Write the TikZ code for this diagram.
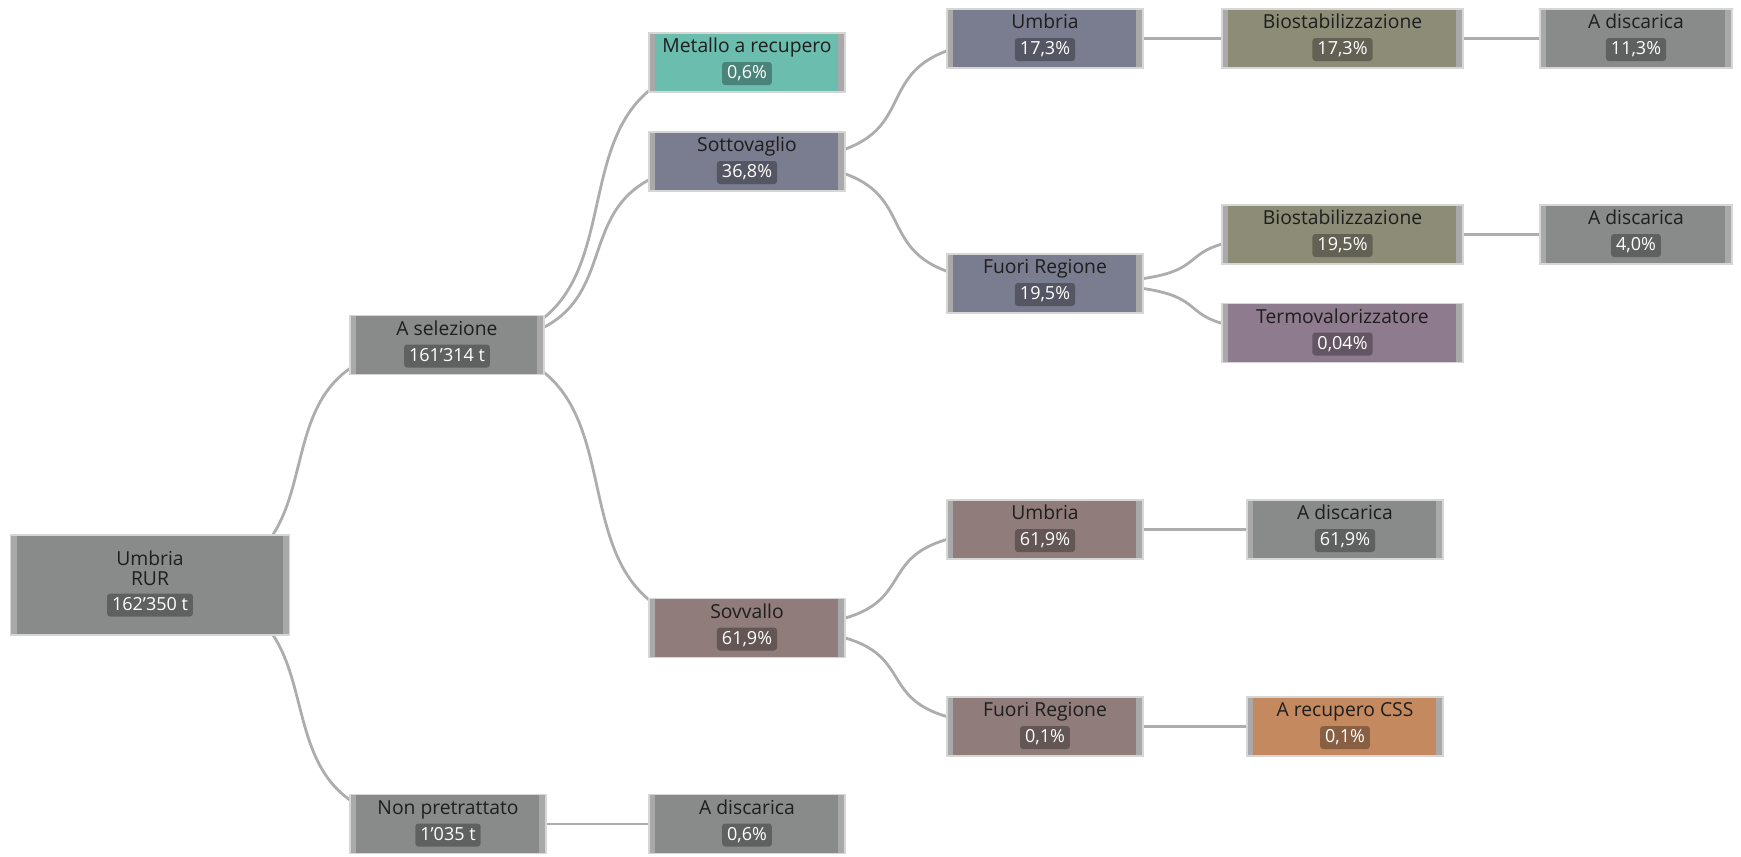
\documentclass[tikz,border=0pt]{standalone}
\usepackage{fontspec}
\setmainfont{Open Sans}
\usetikzlibrary{calc}
\definecolor{cgray}{HTML}{898B8B}
\definecolor{cteal}{HTML}{6BBDAE}
\definecolor{cslate}{HTML}{7A7C8F}
\definecolor{colive}{HTML}{8D8C77}
\definecolor{cmauve}{HTML}{8F7B8E}
\definecolor{crosy}{HTML}{8F7C7B}
\definecolor{corange}{HTML}{C4895F}
\definecolor{barc}{HTML}{A9A9A9}
\definecolor{edgec}{HTML}{D6D6D6}
\definecolor{linkc}{HTML}{ADADAD}
\definecolor{namec}{HTML}{1E1E1E}
\pgfdeclarelayer{back}
\pgfsetlayers{back,main}
\tikzset{
  dbox/.style={rectangle, draw=edgec, line width=1.2pt, inner sep=0pt,
    path picture={
      \fill[barc] (path picture bounding box.south west) rectangle ([xshift=6pt]path picture bounding box.north west);
      \fill[barc] (path picture bounding box.south east) rectangle ([xshift=-7pt]path picture bounding box.north east);}},
  link/.style={draw=linkc, line width=2.8pt},
  nm/.style={anchor=base, text=namec, inner sep=0pt, font=\fontsize{19.3}{20}\selectfont},
  pill/.style={fill=black, fill opacity=0.3, text opacity=1, text=white, rounded corners=3pt,
    inner xsep=5pt, inner ysep=0pt, minimum height=23pt, text height=13pt, text depth=3pt,
    font=\fontsize{18}{20}\selectfont}
}
\newcommand{\dnode}[8]{%
  \node[dbox, fill=#6, minimum width=#4pt, minimum height=#5pt] (#1) at (#2,#3) {};
  \node[nm] (#1-n) at ($(#1.center)+(0,-10)$) {#7};
  \node[pill] (#1-v) at ($(#1.center)+(0,11)$) {#8};
}
\begin{document}
\begin{tikzpicture}[x=1pt, y=-1pt]
\useasboundingbox (0,0) rectangle (1741,857);
% root
\node[dbox, fill=cgray, minimum width=279pt, minimum height=100pt] (rur) at (150,585) {};
\node[nm] (rur-n1) at ($(rur.center)+(0,-20)$) {Umbria};
\node[nm] (rur-n2) at ($(rur.center)+(0,0)$) {RUR};
\node[pill] (rur-v) at ($(rur.center)+(0,20)$) {162’350 t};
% column 1
\dnode{sel}{447}{345}{194}{59}{cgray}{A selezione}{161’314 t}
\dnode{nonp}{448}{824}{196}{59}{cgray}{Non pretrattato}{1’035 t}
% column 2
\dnode{met}{747}{62.5}{196}{59}{cteal}{Metallo a recupero}{0,6\%}
\dnode{sotto}{747}{161.5}{196}{59}{cslate}{Sottovaglio}{36,8\%}
\dnode{sovv}{747}{628}{196}{59}{crosy}{Sovvallo}{61,9\%}
\dnode{disc0}{747}{824}{196}{59}{cgray}{A discarica}{0,6\%}
% column 3
\dnode{umb1}{1045}{38.5}{196}{59}{cslate}{Umbria}{17,3\%}
\dnode{fuori1}{1045}{283.5}{196}{59}{cslate}{Fuori Regione}{19,5\%}
\dnode{umb2}{1045}{529.5}{196}{59}{crosy}{Umbria}{61,9\%}
\dnode{fuori2}{1045}{726.5}{196}{59}{crosy}{Fuori Regione}{0,1\%}
% column 4
\dnode{bio1}{1342.5}{38.5}{241}{59}{colive}{Biostabilizzazione}{17,3\%}
\dnode{bio2}{1342.5}{234.5}{241}{59}{colive}{Biostabilizzazione}{19,5\%}
\dnode{termo}{1342.5}{333}{241}{59}{cmauve}{Termovalorizzatore}{0,04\%}
\dnode{disc2}{1345}{529.5}{196}{59}{cgray}{A discarica}{61,9\%}
\dnode{css}{1345}{726.5}{196}{59}{corange}{A recupero CSS}{0,1\%}
% column 5
\dnode{disc3}{1636}{38.5}{192}{59}{cgray}{A discarica}{11,3\%}
\dnode{disc4}{1636}{234.5}{192}{59}{cgray}{A discarica}{4,0\%}
% links
\begin{pgfonlayer}{back}
\fill[white] (0,0) rectangle (1741,857);
\draw[link] (rur.center) .. controls +(237,0) and +(-237,0) .. (sel.center);
\draw[link] (rur.center) .. controls +(237,0) and +(-237,0) .. (nonp.center);
\draw[link] (sel.center) .. controls +(237,0) and +(-237,0) .. (met.center);
\draw[link] (sel.center) .. controls +(237,0) and +(-237,0) .. (sotto.center);
\draw[link] (sel.center) .. controls +(237,0) and +(-237,0) .. (sovv.center);
\draw[link] (nonp.center) -- (disc0.center);
\draw[link] (sotto.center) .. controls +(237,0) and +(-237,0) .. (umb1.center);
\draw[link] (sotto.center) .. controls +(237,0) and +(-237,0) .. (fuori1.center);
\draw[link] (sovv.center) .. controls +(237,0) and +(-237,0) .. (umb2.center);
\draw[link] (sovv.center) .. controls +(237,0) and +(-237,0) .. (fuori2.center);
\draw[link] (umb1.center) -- (bio1.center);
\draw[link] (fuori1.center) .. controls +(237,0) and +(-237,0) .. (bio2.center);
\draw[link] (fuori1.center) .. controls +(237,0) and +(-237,0) .. (termo.center);
\draw[link] (umb2.center) -- (disc2.center);
\draw[link] (fuori2.center) -- (css.center);
\draw[link] (bio1.center) -- (disc3.center);
\draw[link] (bio2.center) -- (disc4.center);
\end{pgfonlayer}
\end{tikzpicture}
\end{document}
